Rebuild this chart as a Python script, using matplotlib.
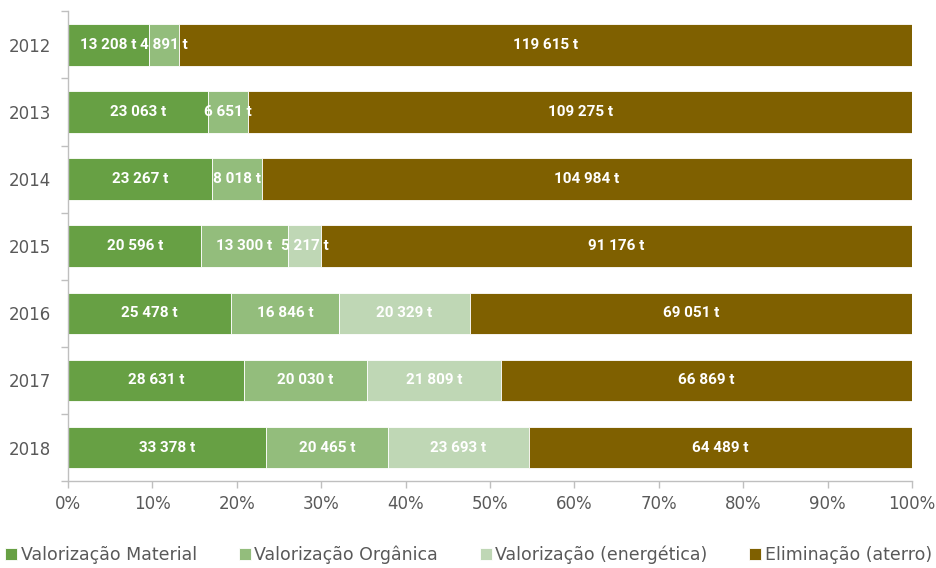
import numpy as np
import matplotlib.pyplot as plt
from matplotlib.ticker import FixedLocator, PercentFormatter

anos = ['2012', '2013', '2014', '2015', '2016', '2017', '2018']
material = [13208, 23063, 23267, 20596, 25478, 28631, 33378]
organica = [4891, 6651, 8018, 13300, 16846, 20030, 20465]
energetica = [0, 0, 0, 5217, 20329, 21809, 23693]
aterro = [119615, 109275, 104984, 91176, 69051, 66869, 64489]

series = [('Valorização Material', material, '#67a044'),
          ('Valorização Orgânica', organica, '#93bd7c'),
          ('Valorização (energética)', energetica, '#bfd7b5'),
          ('Eliminação (aterro)', aterro, '#7f6000')]

cinza = '#595959'
linha = '#bfbfbf'

fig = plt.figure(figsize=(9.37, 5.68), dpi=100)
ax = fig.add_axes([0.0726, 0.153, 0.9007, 0.827])

totais = np.array(material) + np.array(organica) + np.array(energetica) + np.array(aterro)
y = np.arange(len(anos))
esquerda = np.zeros(len(anos))

for nome, valores, cor in series:
    v = np.array(valores, dtype=float)
    pct = v / totais * 100
    ax.barh(y, pct, left=esquerda, height=0.62, color=cor, label=nome,
            edgecolor='white', linewidth=0.6)
    for i in range(len(anos)):
        if v[i] > 0:
            txt = f'{int(v[i]):,}'.replace(',', ' ') + ' t'
            ax.text(esquerda[i] + pct[i] / 2, y[i], txt, ha='center', va='center',
                    color='white', fontsize=11, fontweight='bold',
                    family=['Roboto', 'DejaVu Sans'])
    esquerda += pct

ax.set_xlim(0, 100)
ax.set_ylim(len(anos) - 0.5, -0.5)
ax.set_yticks(y)
ax.set_yticklabels(anos)
ax.yaxis.set_minor_locator(FixedLocator(np.arange(-0.5, len(anos), 1)))
ax.tick_params(axis='y', which='major', length=0, pad=12, labelsize=12, labelcolor=cinza)
ax.tick_params(axis='y', which='minor', length=5, color=linha, width=1)
ax.set_xticks(np.arange(0, 101, 10))
ax.xaxis.set_major_formatter(PercentFormatter(decimals=0))
ax.tick_params(axis='x', length=5, color=linha, width=1, labelsize=12, labelcolor=cinza, pad=5)

for lado in ['top', 'right']:
    ax.spines[lado].set_visible(False)
for lado in ['left', 'bottom']:
    ax.spines[lado].set_color(linha)
    ax.spines[lado].set_linewidth(1)

fig.legend(loc='lower center', ncol=4, frameon=False, fontsize=12.5,
           handlelength=0.7, handleheight=0.7, handletextpad=0.2,
           columnspacing=2.4, labelcolor=cinza, bbox_to_anchor=(0.5, -0.02))

fig.savefig('out.png', dpi=100)
